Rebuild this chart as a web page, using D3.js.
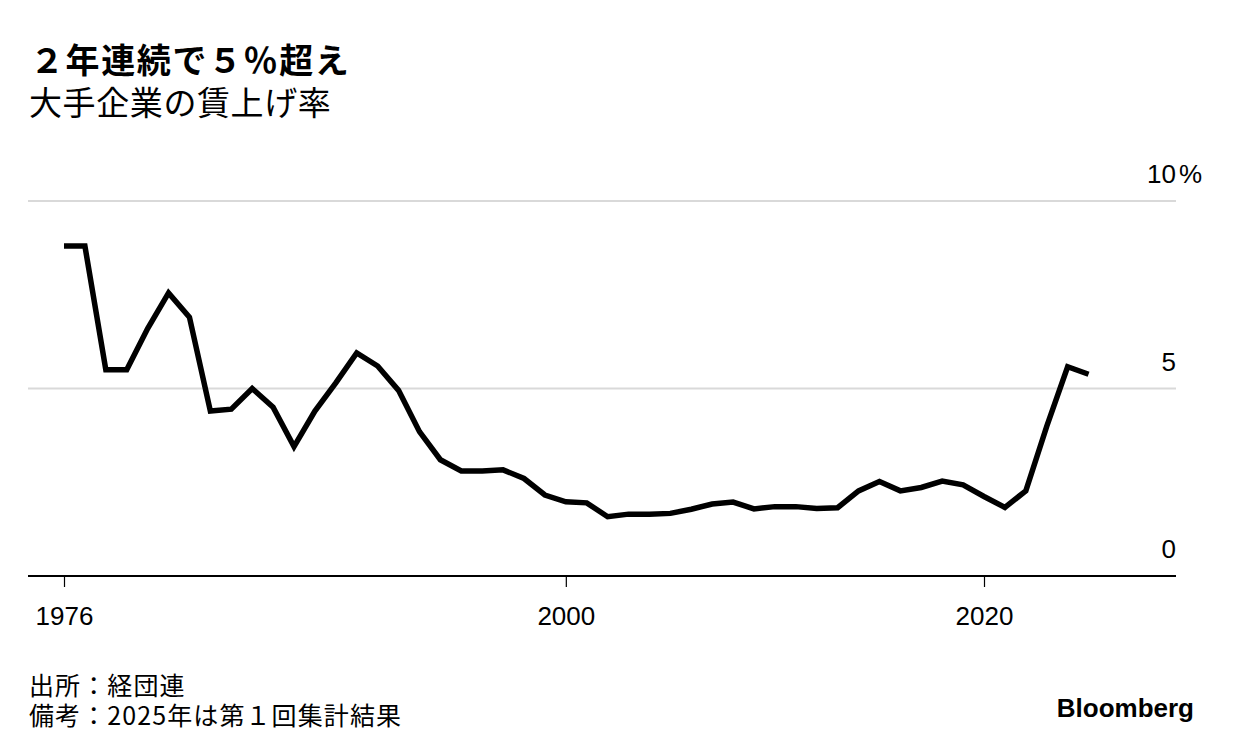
<!DOCTYPE html>
<html><head><meta charset="utf-8">
<script src="https://cdn.jsdelivr.net/npm/d3@7"></script>
<style>
html,body{margin:0;padding:0;background:#fff;}
svg{display:block;}
</style></head>
<body>
<script>
const years = [1976,1977,1978,1979,1980,1981,1982,1983,1984,1985,1986,1987,1988,1989,1990,1991,1992,1993,1994,1995,1996,1997,1998,1999,2000,2001,2002,2003,2004,2005,2006,2007,2008,2009,2010,2011,2012,2013,2014,2015,2016,2017,2018,2019,2020,2021,2022,2023,2024,2025];
const wageRise = [8.8,8.8,5.5,5.5,6.6,7.55,6.9,4.4,4.45,5.0,4.5,3.45,4.4,5.15,5.95,5.6,4.95,3.85,3.1,2.8,2.8,2.83,2.6,2.16,1.98,1.95,1.58,1.65,1.65,1.67,1.78,1.92,1.97,1.79,1.85,1.85,1.8,1.82,2.27,2.52,2.27,2.36,2.53,2.43,2.12,1.83,2.27,3.99,5.58,5.38];
const xTicks = [1976, 2000, 2020];
const yTicks = [0, 5, 10];
const yTickLabels = ["0", "5", "10"];
const title = "２年連続で５％超え";
const subtitle = "大手企業の賃上げ率";
const notes = ["出所：経団連", "備考：2025年は第１回集計結果"];

const W = 1233, H = 754;
const svg = d3.select("body").append("svg").attr("width", W).attr("height", H);
const cjk = "'Noto Sans CJK JP', 'Noto Sans', sans-serif";
const latin = "'Liberation Sans', Arial, sans-serif";

const x = d3.scaleLinear().domain([1976, 2020]).range([64, 984]);
const y = d3.scaleLinear().domain([0, 10]).range([576, 201]);
const left = 28, right = 1176;

svg.append("text").attr("x", 30).attr("y", 73)
  .attr("font-family", cjk).attr("font-weight", 700).attr("font-size", 34)
  .attr("letter-spacing", 1.6)
  .attr("fill", "#000").text(title);
svg.append("text").attr("x", 29).attr("y", 115)
  .attr("font-family", cjk).attr("font-weight", 400).attr("font-size", 33)
  .attr("letter-spacing", 0.6)
  .attr("fill", "#000").text(subtitle);

// gridlines (non-zero)
svg.append("g").selectAll("line").data(yTicks.filter(d => d !== 0)).join("line")
  .attr("x1", left).attr("x2", right)
  .attr("y1", d => y(d)).attr("y2", d => y(d))
  .attr("stroke", "#d9d9d9").attr("stroke-width", 2);

// y labels
svg.append("g").selectAll("text").data(yTicks).join("text")
  .attr("x", right).attr("y", d => y(d) - 18)
  .attr("text-anchor", "end")
  .attr("font-family", latin).attr("font-size", 26).attr("fill", "#000")
  .text((d, i) => yTickLabels[i]);
svg.append("text").attr("x", right + 3).attr("y", y(10) - 18)
  .attr("font-family", latin).attr("font-size", 26).attr("fill", "#000").text("%");

// x axis
const xAxis = d3.axisBottom(x).tickValues(xTicks).tickFormat(d3.format("d")).tickSize(11).tickPadding(0);
const gx = svg.append("g").attr("transform", `translate(0,${y(0)})`).call(xAxis);
gx.select(".domain").remove();
gx.selectAll(".tick line").attr("stroke", "#000").attr("stroke-width", 1.2);
gx.selectAll(".tick text").attr("font-family", latin).attr("font-size", 26).attr("fill", "#000")
  .attr("dy", null).attr("y", 49);
svg.append("line").attr("x1", left).attr("x2", right).attr("y1", y(0)).attr("y2", y(0))
  .attr("stroke", "#000").attr("stroke-width", 2);

// line
const line = d3.line().x((d, i) => x(years[i])).y(d => y(d));
svg.append("path").datum(wageRise).attr("d", line)
  .attr("fill", "none").attr("stroke", "#000").attr("stroke-width", 5.5)
  .attr("stroke-linejoin", "miter").attr("stroke-miterlimit", 3);

// notes
svg.append("g").selectAll("text").data(notes).join("text")
  .attr("x", 29).attr("y", (d, i) => 695 + i * 30)
  .attr("font-family", cjk).attr("font-size", 25).attr("letter-spacing", 1.1)
  .attr("fill", "#000").text(d => d);

svg.append("text").attr("x", 1194).attr("y", 717).attr("text-anchor", "end")
  .attr("font-family", latin).attr("font-weight", 700).attr("font-size", 26)
  .attr("fill", "#000").text("Bloomberg");
</script>
</body></html>
